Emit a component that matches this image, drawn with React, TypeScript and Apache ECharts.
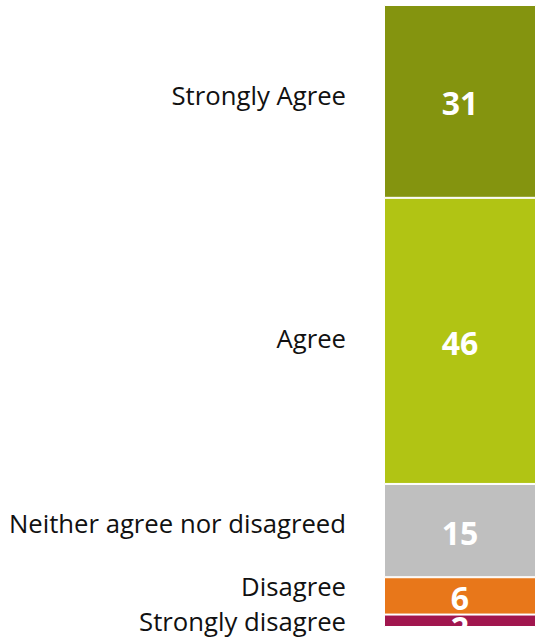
import React, { useEffect, useRef } from "react";
import * as echarts from "echarts";

const categories = ["Strongly disagree", "Disagree", "Neither agree nor disagreed", "Agree", "Strongly Agree"];
const values = [2, 6, 15, 46, 31];
const colors = ["#A1164E", "#E8771A", "#BFBFBF", "#B1C414", "#84940F"];
const nameOffsets = [[0, 1], [0, -9], [0, -7], [0, -2.5], [0, -6]];
const valueOffsets = [[0, 7], [0, 1.5], [0, 2], [0, 2], [0, 1.5]];

export default function App() {
  const ref = useRef<HTMLDivElement>(null);
  useEffect(() => {
    document.body.style.margin = "0";
    document.body.style.overflow = "hidden";
    const chart = echarts.init(ref.current!, null, { renderer: "svg" });
    const series: any[] = [];
    categories.forEach((c, i) => {
      series.push({
        name: c,
        type: "bar",
        stack: "v",
        barWidth: "100%",
        barGap: "-100%",
        data: [values[i]],
        itemStyle: { color: colors[i], borderColor: "#fff", borderWidth: 1 },
        label: {
          show: true,
          position: "inside",
          formatter: "{c}",
          color: "#fff",
          fontSize: 32,
          fontWeight: "bold",
          fontFamily: "Open Sans",
          offset: valueOffsets[i],
        },
      });
    });
    categories.forEach((c, i) => {
      series.push({
        name: c + " label",
        type: "bar",
        stack: "n",
        barWidth: "100%",
        barGap: "-100%",
        data: [values[i]],
        itemStyle: { color: "rgba(0,0,0,0)" },
        label: {
          show: true,
          position: "left",
          distance: 38,
          formatter: c,
          color: "#111",
          fontSize: 25.7,
          fontFamily: "Open Sans",
          offset: nameOffsets[i],
        },
        silent: true,
      });
    });
    chart.setOption({
      animation: false,
      grid: { left: 384, right: -4, top: 5, bottom: 12 },
      xAxis: { type: "category", data: ["All"], show: false },
      yAxis: { type: "value", min: 0, max: 100, show: false },
      series,
    });
    return () => chart.dispose();
  }, []);
  return <div ref={ref} style={{ width: 536, height: 639 }} />;
}
